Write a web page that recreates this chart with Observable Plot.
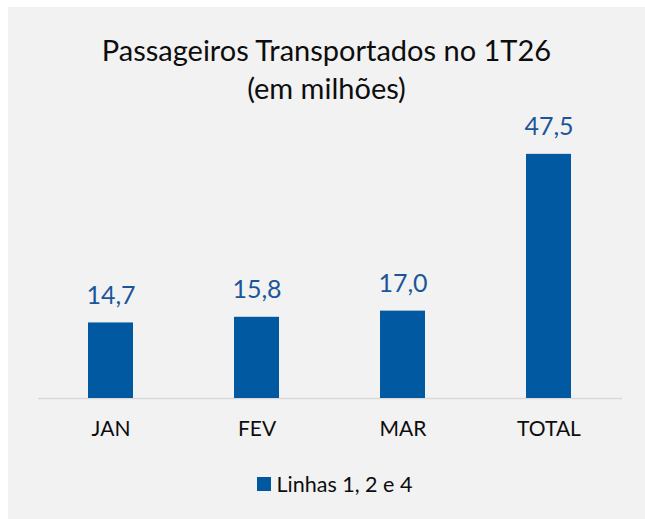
<!DOCTYPE html>
<html>
<head>
<meta charset="utf-8">
<script src="https://cdn.jsdelivr.net/npm/d3@7"></script>
<script src="https://cdn.jsdelivr.net/npm/@observablehq/plot@0.6"></script>
<style>
  html, body { margin: 0; padding: 0; background: #ffffff; }
  body { width: 645px; height: 519px; position: relative; overflow: hidden; font-family: Lato, "Open Sans", sans-serif; }
  #panel { position: absolute; left: 8px; top: 7px; width: 637px; height: 512px; background: #f2f2f2; }
  #title { padding-top: 24px; text-align: center; font-size: 29px; line-height: 38px; color: #0d0d0d; }
  #chart svg { display: block; }
  #legend { margin-top: 17px; padding-left: 16px; display: flex; justify-content: center; align-items: center; font-size: 21.5px; line-height: 20px; color: #0d0d0d; }
  #legend .sw { width: 14px; height: 14px; background: #0059a1; margin-right: 6px; }
</style>
</head>
<body>
<div id="panel">
  <div id="title">Passageiros Transportados no 1T26<br>(em milhões)</div>
  <div id="chart"></div>
  <div id="legend"><span class="sw"></span><span>Linhas 1, 2 e 4</span></div>
</div>
<script>
const categories = ["JAN", "FEV", "MAR", "TOTAL"];
const values = [14.7, 15.8, 17.0, 47.5];
const valueLabels = ["14,7", "15,8", "17,0", "47,5"];
const seriesName = "Linhas 1, 2 e 4";

const data = categories.map((c, i) => ({category: c, value: values[i], label: valueLabels[i]}));

const chart = Plot.plot({
  width: 637,
  height: 350,
  marginLeft: 30,
  marginRight: 23,
  marginTop: 34,
  marginBottom: 59,
  style: {background: "transparent", fontFamily: "Lato, 'Open Sans', sans-serif"},
  x: {domain: categories, paddingInner: 0.69, paddingOuter: 0.345, label: null},
  y: {domain: [0, 50], axis: null},
  marks: [
    Plot.ruleY([0], {stroke: "#d9d9d9", strokeWidth: 1.5}),
    Plot.barY(data, {x: "category", y: "value", fill: "#0059a1"}),
    Plot.text(data, {x: "category", y: "value", text: "label", dy: -27, fontSize: 25, fill: "#1a5699"}),
    Plot.axisX({tickSize: 0, tickPadding: 23, fontSize: 21, fill: "#0d0d0d", label: null})
  ]
});
document.getElementById("chart").appendChild(chart);
</script>
</body>
</html>
